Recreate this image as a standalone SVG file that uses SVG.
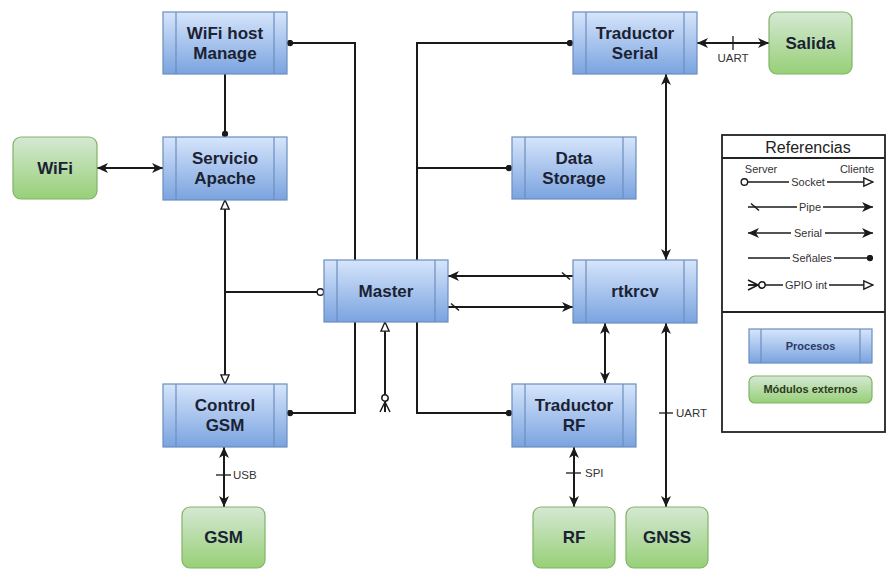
<svg xmlns="http://www.w3.org/2000/svg" width="887" height="569" viewBox="0 0 887 569">
  <defs>
    <linearGradient id="gBlue" x1="0" y1="0" x2="0" y2="1">
      <stop offset="0" stop-color="#d6e5fb"/>
      <stop offset="1" stop-color="#7aa3df"/>
    </linearGradient>
    <linearGradient id="gGreen" x1="0" y1="0" x2="0" y2="1">
      <stop offset="0" stop-color="#d5e8d4"/>
      <stop offset="1" stop-color="#97d077"/>
    </linearGradient>
    <!-- filled arrowhead (serial / pipe ends) -->
    <marker id="arr" viewBox="0 0 10 10" refX="10" refY="5" markerWidth="11" markerHeight="11" markerUnits="userSpaceOnUse" orient="auto-start-reverse">
      <path d="M0,0.5 L10,5 L0,9.5 L2.8,5 z" fill="#1a1a1a"/>
    </marker>
    <!-- signal end dot -->
    <marker id="dot" viewBox="0 0 8 8" refX="7.5" refY="4" markerWidth="7" markerHeight="7" markerUnits="userSpaceOnUse" orient="auto">
      <circle cx="4" cy="4" r="3.6" fill="#1a1a1a"/>
    </marker>
    <!-- socket client end -->
    <marker id="otri" viewBox="0 0 12 12" refX="11" refY="6" markerWidth="11" markerHeight="11" markerUnits="userSpaceOnUse" orient="auto-start-reverse">
      <path d="M1,1.5 L11,6 L1,10.5 z" fill="#fff" stroke="#1a1a1a" stroke-width="1.5"/>
    </marker>
    <!-- socket server end -->
    <marker id="ocirc" viewBox="0 0 10 10" refX="9" refY="5" markerWidth="9" markerHeight="9" markerUnits="userSpaceOnUse" orient="auto">
      <circle cx="5" cy="5" r="3.6" fill="#fff" stroke="#1a1a1a" stroke-width="1.5"/>
    </marker>
    <!-- pipe start slash -->
    <marker id="slash" viewBox="0 0 10 10" refX="-2" refY="5" markerWidth="10" markerHeight="10" markerUnits="userSpaceOnUse" orient="auto" overflow="visible">
      <path d="M1,1.5 L9,8.5" stroke="#1a1a1a" stroke-width="1.5" fill="none"/>
    </marker>
    <!-- GPIO interrupt start -->
    <marker id="gpio" viewBox="-1 -7 22 14" refX="0" refY="0" markerWidth="22" markerHeight="14" markerUnits="userSpaceOnUse" orient="auto" overflow="visible">
      <path d="M0,-5 L10,0 M0,5 L10,0 M0,0 L10,0" stroke="#1a1a1a" stroke-width="1.5" fill="none"/>
      <circle cx="14" cy="0" r="3.2" fill="#fff" stroke="#1a1a1a" stroke-width="1.5"/>
    </marker>
    <style>
      .proc rect { fill: url(#gBlue); stroke: #6c8ebf; stroke-width: 1.2; }
      .proc line { stroke: #6c8ebf; stroke-width: 1.2; }
      .ext rect { fill: url(#gGreen); stroke: #82b366; stroke-width: 1.2; }
      .lbl { font-family: "Liberation Sans", Arial, sans-serif; font-weight: bold; font-size: 17px; fill: #1b2233; text-anchor: middle; }
      .small { font-family: "Liberation Sans", Arial, sans-serif; font-size: 11.5px; fill: #333; }
      .conn { fill: none; stroke: #1a1a1a; stroke-width: 2; }
      .leg { fill: none; stroke: #1a1a1a; stroke-width: 1.6; }
      .tick { stroke: #1a1a1a; stroke-width: 1.3; }
      .legtxt { font-family: "Liberation Sans", Arial, sans-serif; font-size: 11px; fill: #333; text-anchor: middle; }
    </style>
  </defs>

  <rect width="887" height="569" fill="#fff"/>

  <!-- connectors -->
  <g id="connectors">
    <path class="conn" d="M355,260 V43 H287" marker-end="url(#dot)"/>
    <path class="conn" d="M355,322 V413 H287" marker-end="url(#dot)"/>
    <path class="conn" d="M417,260 V43 H573" marker-end="url(#dot)"/>
    <path class="conn" d="M417,168 H512" marker-end="url(#dot)"/>
    <path class="conn" d="M417,322 V413 H512" marker-end="url(#dot)"/>
    <path class="conn" d="M225,74 V137" marker-end="url(#dot)"/>
    <path class="conn" d="M97,168 H163" marker-start="url(#arr)" marker-end="url(#arr)"/>
    <path class="conn" d="M225,200 V384" marker-start="url(#otri)" marker-end="url(#otri)"/>
    <path class="conn" d="M225,292 H324" marker-end="url(#ocirc)"/>
    <path class="conn" d="M573,276 H448" marker-start="url(#slash)" marker-end="url(#arr)"/>
    <path class="conn" d="M448,307 H573" marker-start="url(#slash)" marker-end="url(#arr)"/>
    <path class="conn" d="M697,43 H769" marker-start="url(#arr)" marker-end="url(#arr)"/>
    <line class="tick" x1="733" y1="36" x2="733" y2="50"/>
    <text class="small" x="733" y="62" text-anchor="middle">UART</text>
    <path class="conn" d="M666,74 V260" marker-start="url(#arr)" marker-end="url(#arr)"/>
    <path class="conn" d="M605,323 V383" marker-start="url(#arr)" marker-end="url(#arr)"/>
    <path class="conn" d="M666,323 V507" marker-start="url(#arr)" marker-end="url(#arr)"/>
    <line class="tick" x1="659" y1="413" x2="673" y2="413"/>
    <text class="small" x="676" y="417">UART</text>
    <path class="conn" d="M224,447 V507" marker-start="url(#arr)" marker-end="url(#arr)"/>
    <line class="tick" x1="216" y1="475" x2="231" y2="475"/>
    <text class="small" x="233" y="479">USB</text>
    <path class="conn" d="M574,447 V507" marker-start="url(#arr)" marker-end="url(#arr)"/>
    <line class="tick" x1="566" y1="473" x2="581" y2="473"/>
    <text class="small" x="585" y="477">SPI</text>
    <path class="conn" d="M385,412 V322" marker-start="url(#gpio)" marker-end="url(#otri)"/>
  </g>

  <!-- process nodes -->
  <g id="wifi-host-manage" class="proc">
    <rect x="163" y="12" width="124" height="62"/>
    <line x1="176" y1="12" x2="176" y2="74"/><line x1="274" y1="12" x2="274" y2="74"/>
    <text class="lbl" x="225" y="39">WiFi host</text>
    <text class="lbl" x="225" y="59">Manage</text>
  </g>
  <g id="servicio-apache" class="proc">
    <rect x="163" y="137" width="124" height="63"/>
    <line x1="176" y1="137" x2="176" y2="200"/><line x1="274" y1="137" x2="274" y2="200"/>
    <text class="lbl" x="225" y="164">Servicio</text>
    <text class="lbl" x="225" y="184">Apache</text>
  </g>
  <g id="control-gsm" class="proc">
    <rect x="163" y="384" width="124" height="63"/>
    <line x1="176" y1="384" x2="176" y2="447"/><line x1="274" y1="384" x2="274" y2="447"/>
    <text class="lbl" x="225" y="411">Control</text>
    <text class="lbl" x="225" y="431">GSM</text>
  </g>
  <g id="master" class="proc">
    <rect x="324" y="260" width="124" height="62"/>
    <line x1="337" y1="260" x2="337" y2="322"/><line x1="435" y1="260" x2="435" y2="322"/>
    <text class="lbl" x="386" y="297">Master</text>
  </g>
  <g id="traductor-serial" class="proc">
    <rect x="573" y="12" width="124" height="62"/>
    <line x1="586" y1="12" x2="586" y2="74"/><line x1="684" y1="12" x2="684" y2="74"/>
    <text class="lbl" x="635" y="39">Traductor</text>
    <text class="lbl" x="635" y="59">Serial</text>
  </g>
  <g id="data-storage" class="proc">
    <rect x="512" y="137" width="124" height="62"/>
    <line x1="525" y1="137" x2="525" y2="199"/><line x1="623" y1="137" x2="623" y2="199"/>
    <text class="lbl" x="574" y="164">Data</text>
    <text class="lbl" x="574" y="184">Storage</text>
  </g>
  <g id="rtkrcv" class="proc">
    <rect x="573" y="260" width="124" height="63"/>
    <line x1="586" y1="260" x2="586" y2="323"/><line x1="684" y1="260" x2="684" y2="323"/>
    <text class="lbl" x="635" y="297">rtkrcv</text>
  </g>
  <g id="traductor-rf" class="proc">
    <rect x="512" y="384" width="124" height="63"/>
    <line x1="525" y1="384" x2="525" y2="447"/><line x1="623" y1="384" x2="623" y2="447"/>
    <text class="lbl" x="574" y="411">Traductor</text>
    <text class="lbl" x="574" y="431">RF</text>
  </g>

  <!-- external modules -->
  <g id="salida" class="ext">
    <rect x="769" y="12" width="83" height="62" rx="8"/>
    <text class="lbl" x="810.5" y="49">Salida</text>
  </g>
  <g id="wifi" class="ext">
    <rect x="13" y="137" width="84" height="62" rx="8"/>
    <text class="lbl" x="55" y="174">WiFi</text>
  </g>
  <g id="gsm" class="ext">
    <rect x="182" y="507" width="83" height="61" rx="8"/>
    <text class="lbl" x="223.5" y="543">GSM</text>
  </g>
  <g id="rf" class="ext">
    <rect x="533" y="507" width="82" height="61" rx="8"/>
    <text class="lbl" x="574" y="543">RF</text>
  </g>
  <g id="gnss" class="ext">
    <rect x="626" y="507" width="82" height="61" rx="8"/>
    <text class="lbl" x="667" y="543">GNSS</text>
  </g>

  <!-- legend -->
  <g id="legend">
    <rect x="722" y="135" width="163" height="297" fill="#fff" stroke="#222" stroke-width="1.8"/>
    <line x1="722" y1="158" x2="885" y2="158" stroke="#222" stroke-width="1.8"/>
    <line x1="722" y1="312" x2="885" y2="312" stroke="#222" stroke-width="2"/>
    <text x="808" y="153" font-family="Liberation Sans, Arial, sans-serif" font-size="16" fill="#222" text-anchor="middle">Referencias</text>

    <text class="legtxt" x="761" y="173">Server</text>
    <text class="legtxt" x="857" y="173">Cliente</text>
    <path class="leg" d="M748,182 H873" marker-start="url(#ocirc)" marker-end="url(#otri)"/>
    <path class="leg" d="M748,207 H873" marker-start="url(#slash)" marker-end="url(#arr)"/>
    <path class="leg" d="M748,233 H873" marker-start="url(#arr)" marker-end="url(#arr)"/>
    <path class="leg" d="M748,258 H873" marker-end="url(#dot)"/>
    <path class="leg" d="M748,285 H873" marker-start="url(#gpio)" marker-end="url(#otri)"/>
    <g fill="#fff">
      <rect x="789" y="176" width="38" height="12"/>
      <rect x="797" y="201" width="26" height="12"/>
      <rect x="791" y="227" width="34" height="12"/>
      <rect x="790" y="252" width="44" height="12"/>
      <rect x="783" y="279" width="46" height="12"/>
    </g>
    <text class="legtxt" x="808" y="186">Socket</text>
    <text class="legtxt" x="810" y="211">Pipe</text>
    <text class="legtxt" x="808" y="237">Serial</text>
    <text class="legtxt" x="812" y="262">Señales</text>
    <text class="legtxt" x="806" y="289">GPIO int</text>

    <g class="proc">
      <rect x="749" y="329" width="123" height="34"/>
      <line x1="761" y1="329" x2="761" y2="363"/><line x1="860" y1="329" x2="860" y2="363"/>
    </g>
    <text x="810.5" y="350" font-family="Liberation Sans, Arial, sans-serif" font-size="11" font-weight="bold" fill="#2a3a66" text-anchor="middle">Procesos</text>
    <g class="ext">
      <rect x="749" y="376" width="123" height="27" rx="6"/>
    </g>
    <text x="810.5" y="393" font-family="Liberation Sans, Arial, sans-serif" font-size="11" font-weight="bold" fill="#2a3a1e" text-anchor="middle">Módulos externos</text>
  </g>
</svg>
